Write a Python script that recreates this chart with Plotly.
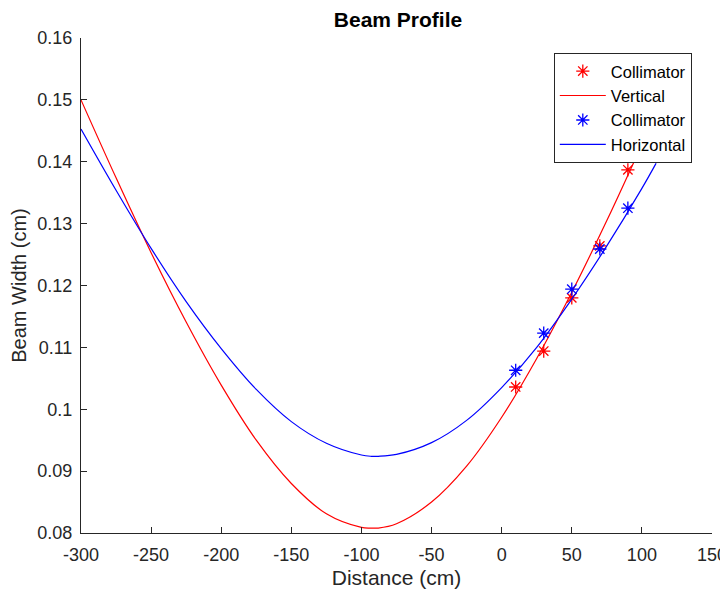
import plotly.graph_objects as go

# Measured collimator points
meas_x = [10, 30, 50, 70, 90, 110]
vert_pts = [0.1036, 0.1094, 0.1180, 0.1264, 0.1387, 0.1480]
horz_pts = [0.1063, 0.1123, 0.1194, 0.1259, 0.1325, 0.1408]

# Fitted curves
curve_x = [-300, -275, -250, -225, -200, -175, -150, -125, -100, -93, -88, -75,
           -50, -25, 0, 25, 50, 75, 100, 110]
vert_curve = [0.1500, 0.1374, 0.1253, 0.1141, 0.1039, 0.0950, 0.0880, 0.0831,
              0.0809, 0.0808, 0.0808, 0.0815, 0.0850, 0.0908, 0.0987, 0.1082,
              0.1189, 0.1305, 0.1428, 0.1479]
horz_curve = [0.1453, 0.1354, 0.1260, 0.1174, 0.1098, 0.1032, 0.0980, 0.0945,
              0.0926, 0.0924, 0.0924, 0.0927, 0.0946, 0.0982, 0.1035, 0.1100,
              0.1178, 0.1264, 0.1357, 0.1397]

x_ticks = [-300, -250, -200, -150, -100, -50, 0, 50, 100, 150]
x_labels = ["-300", "-250", "-200", "-150", "-100", "-50", "0", "50", "100", "150"]
y_ticks = [0.08, 0.09, 0.10, 0.11, 0.12, 0.13, 0.14, 0.15, 0.16]
y_labels = ["0.08", "0.09", "0.1", "0.11", "0.12", "0.13", "0.14", "0.15", "0.16"]

RED = "#ff0000"
BLUE = "#0000ff"
FONT = "Liberation Sans, Arial, sans-serif"
GREY = "#262626"

# page body adds an 8px offset; figure is sized to compensate
W, H = 720, 588

fig = go.Figure()
fig.add_trace(go.Scatter(x=meas_x, y=vert_pts, mode="markers", name="Collimator",
                         marker=dict(symbol="asterisk-open", size=11, color=RED,
                                     line=dict(color=RED, width=1.3))))
fig.add_trace(go.Scatter(x=curve_x, y=vert_curve, mode="lines", name="Vertical",
                         line=dict(color=RED, width=1.2, shape="spline")))
fig.add_trace(go.Scatter(x=meas_x, y=horz_pts, mode="markers", name="Collimator",
                         marker=dict(symbol="asterisk-open", size=11, color=BLUE,
                                     line=dict(color=BLUE, width=1.3))))
fig.add_trace(go.Scatter(x=curve_x, y=horz_curve, mode="lines", name="Horizontal",
                         line=dict(color=BLUE, width=1.2, shape="spline")))

axis_common = dict(showgrid=False, zeroline=False, showline=True, linecolor=GREY,
                   linewidth=1, ticks="inside", ticklen=6, tickcolor=GREY,
                   tickfont=dict(family=FONT, size=18, color=GREY),
                   mirror=False, automargin=False)

fig.update_layout(
    width=W, height=H,
    margin=dict(l=73, r=16, t=30, b=63),
    paper_bgcolor="white", plot_bgcolor="white",
    title=dict(text="<b>Beam Profile</b>", x=390 / W, xref="container", xanchor="center",
               y=1 - 12 / H, yref="container", yanchor="middle",
               font=dict(family=FONT, size=21, color="black")),
    xaxis=dict(range=[-300, 150], tickvals=x_ticks, ticktext=x_labels,
               ticklabelstandoff=5,
               title=dict(text="Distance (cm)", font=dict(family=FONT, size=21, color=GREY),
                          standoff=6),
               **axis_common),
    yaxis=dict(range=[0.08, 0.16], tickvals=y_ticks, ticktext=y_labels,
               ticklabelstandoff=4,
               title=dict(text="Beam Width (cm)", font=dict(family=FONT, size=20, color=GREY),
                          standoff=6),
               **axis_common),
    legend=dict(x=0.968, y=0.97, xanchor="right", yanchor="top",
                bgcolor="white", bordercolor=GREY, borderwidth=1,
                font=dict(family=FONT, size=16.5, color="black"),
                tracegroupgap=0, itemwidth=46),
    showlegend=True,
)

fig.write_html("out.html")
